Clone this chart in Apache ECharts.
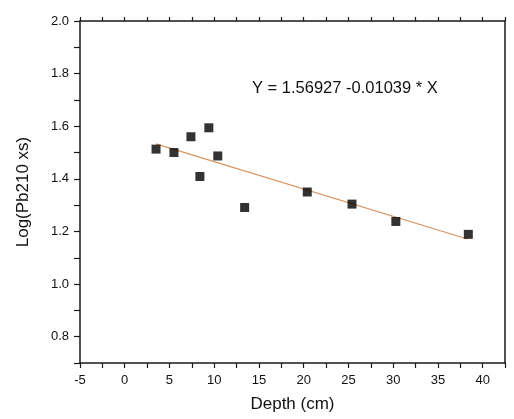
<!DOCTYPE html>
<html>
<head>
<meta charset="utf-8">
<script src="https://cdn.jsdelivr.net/npm/echarts@6/dist/echarts.min.js"></script>
<style>
html,body{margin:0;padding:0;background:#fff;}
#c{width:514px;height:419px;}
</style>
</head>
<body>
<div id="c"></div>
<script>
// Data
var depth = [3.5, 5.5, 7.4, 8.4, 9.4, 10.4, 13.4, 20.4, 25.4, 30.3, 38.4];
var logPb = [1.513, 1.500, 1.560, 1.409, 1.594, 1.487, 1.291, 1.350, 1.304, 1.238, 1.189];
var fitA = 1.56927;
var fitB = -0.01039;
var fitRange = [3.5, 38.3];
var equationText = 'Y = 1.56927 -0.01039 * X';
var xLabel = 'Depth (cm)';
var yLabel = 'Log(Pb210 xs)';

var points = depth.map(function (d, i) { return [d, logPb[i]]; });
var fitLine = fitRange.map(function (x) { return [x, fitA + fitB * x]; });

var font = '"Liberation Sans", Arial, sans-serif';
var axisColor = '#1a1a1a';

var chart = echarts.init(document.getElementById('c'), null, {renderer: 'canvas'});
chart.setOption({
  backgroundColor: '#fff',
  animation: false,
  grid: {left: 80, right: 9, top: 21, bottom: 56, containLabel: false},
  xAxis: [{
    type: 'value', min: -5, max: 42.5, interval: 2.5,
    name: xLabel, nameLocation: 'middle', nameGap: 33,
    nameTextStyle: {fontFamily: font, fontSize: 17, color: '#111'},
    axisLine: {show: true, onZero: false, lineStyle: {color: axisColor, width: 1.5}},
    axisTick: {show: true, inside: false, length: 5, lineStyle: {color: axisColor, width: 1.2}},
    axisLabel: {fontFamily: font, fontSize: 13, color: '#111', margin: 11,
      formatter: function (v) { return (Math.abs(v % 5) < 1e-6) ? String(v) : ''; }},
    splitLine: {show: false}
  }, {
    type: 'value', min: -5, max: 42.5, interval: 2.5, position: 'top',
    axisLine: {show: true, onZero: false, lineStyle: {color: axisColor, width: 1.5}},
    axisTick: {show: true, inside: false, length: 4, lineStyle: {color: axisColor, width: 1.2}},
    axisLabel: {show: false},
    splitLine: {show: false}
  }],
  yAxis: [{
    type: 'value', min: 0.7, max: 2.0, interval: 0.1,
    name: yLabel, nameLocation: 'middle', nameGap: 48, nameRotate: 90,
    nameTextStyle: {fontFamily: font, fontSize: 17, color: '#111'},
    axisLine: {show: true, onZero: false, lineStyle: {color: axisColor, width: 1.5}},
    axisTick: {show: true, inside: false, length: 6, lineStyle: {color: axisColor, width: 1.2}},
    axisLabel: {fontFamily: font, fontSize: 13, color: '#111', margin: 11,
      formatter: function (v) { var k = Math.round(v * 10); return (k % 2 === 0) ? (k / 10).toFixed(1) : ''; }},
    splitLine: {show: false}
  }, {
    type: 'value', min: 0.7, max: 2.0, interval: 0.1, position: 'right',
    axisLine: {show: true, onZero: false, lineStyle: {color: axisColor, width: 1.5}},
    axisTick: {show: false},
    axisLabel: {show: false},
    splitLine: {show: false}
  }],
  graphic: [{
    type: 'text', left: 252, top: 80,
    style: {text: equationText, font: '16.5px ' + font, fill: '#111'}
  }],
  series: [{
    type: 'line', data: fitLine, showSymbol: false, symbol: 'none',
    lineStyle: {color: '#d8935e', width: 1.2}, z: 2
  }, {
    type: 'scatter', data: points, symbol: 'rect', symbolSize: 9,
    itemStyle: {color: '#000'}, z: 3
  }]
});
</script>
</body>
</html>
